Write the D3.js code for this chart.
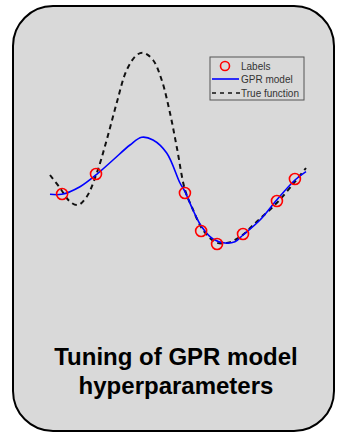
<!DOCTYPE html>
<html><head><meta charset="utf-8">
<script src="https://cdn.jsdelivr.net/npm/d3@7"></script>
<style>html,body{margin:0;padding:0;background:#fff;}svg{display:block;}</style>
</head><body>
<script>
const labelX = [0.47, 1.79, 5.25, 5.88, 6.50, 7.51, 8.83, 9.53];
const labelY = [0.52, 0.92, 0.54, -0.22, -0.48, -0.28, 0.38, 0.82];
const gprX = [0, 0.455, 1.167, 1.817, 2.451, 3.113, 3.568, 4.008, 4.541, 5.058, 5.253, 5.564, 5.903, 6.342, 6.809, 7.198, 7.510, 8.171, 8.821, 9.533, 9.961];
const gprY = [0.514, 0.514, 0.666, 0.914, 1.2, 1.5, 1.654, 1.6, 1.34, 0.74, 0.566, 0.2, -0.134, -0.38, -0.46, -0.434, -0.3, 0, 0.4, 0.8, 0.966];
const trueX = [0, 0.389, 0.778, 1.089, 1.428, 1.817, 2.206, 2.595, 2.984, 3.374, 3.630, 4.008, 4.346, 4.669, 4.930, 5.253, 5.514, 5.953, 6.486, 6.926, 7.393, 8.043, 8.821, 9.533, 9.961];
const trueY = [0.9, 0.64, 0.366, 0.3, 0.466, 0.934, 1.6, 2.34, 3.0, 3.3, 3.346, 3.2, 2.8, 2.14, 1.466, 0.6, 0.266, -0.2, -0.454, -0.454, -0.34, -0.034, 0.34, 0.766, 1.04];
const legendLabels = ["Labels", "GPR model", "True function"];
const titleLines = ["Tuning of GPR model", "hyperparameters"];

const W = 337, H = 433;
const svg = d3.select("body").append("svg").attr("width", W).attr("height", H);
svg.append("rect").attr("x", 13).attr("y", 6).attr("width", 321).attr("height", 425)
  .attr("rx", 40).attr("ry", 40).attr("fill", "#d9d9d9").attr("stroke", "#000").attr("stroke-width", 2);

const x = d3.scaleLinear().domain([0, 10]).range([50, 307]);
const y = d3.scaleLinear().domain([-1, 4]).range([270, 20]);

const line = d3.line().x(d => x(d[0])).y(d => y(d[1])).curve(d3.curveCatmullRom);
svg.append("path").datum(trueX.map((v, i) => [v, trueY[i]]))
  .attr("d", line).attr("fill", "none").attr("stroke", "#111").attr("stroke-width", 2)
  .attr("stroke-dasharray", "5,4");
svg.append("path").datum(gprX.map((v, i) => [v, gprY[i]]))
  .attr("d", line).attr("fill", "none").attr("stroke", "#0000ff").attr("stroke-width", 1.6);
svg.selectAll("circle.lab").data(labelX.map((v, i) => [v, labelY[i]])).enter()
  .append("circle").attr("class", "lab").attr("cx", d => x(d[0])).attr("cy", d => y(d[1]))
  .attr("r", 5.5).attr("fill", "none").attr("stroke", "#ff0000").attr("stroke-width", 1.6);

// legend
const lg = svg.append("g");
lg.append("rect").attr("x", 210).attr("y", 57).attr("width", 94).attr("height", 43)
  .attr("fill", "#d9d9d9").attr("stroke", "#555").attr("stroke-width", 1);
const ly = [66, 79, 93];
lg.append("circle").attr("cx", 225).attr("cy", ly[0]).attr("r", 4.5).attr("fill", "none")
  .attr("stroke", "#ff0000").attr("stroke-width", 1.6);
lg.append("line").attr("x1", 212).attr("x2", 239).attr("y1", ly[1]).attr("y2", ly[1])
  .attr("stroke", "#0000ff").attr("stroke-width", 1.6);
lg.append("line").attr("x1", 212).attr("x2", 240).attr("y1", ly[2]).attr("y2", ly[2])
  .attr("stroke", "#111").attr("stroke-width", 1.6).attr("stroke-dasharray", "4,4");
lg.selectAll("text").data(legendLabels).enter().append("text")
  .attr("x", 241).attr("y", (d, i) => ly[i] + 3.5)
  .attr("font-family", "Liberation Sans, Arial, sans-serif").attr("font-size", 10)
  .attr("fill", "#333").text(d => d);

svg.selectAll("text.title").data(titleLines).enter().append("text").attr("class", "title")
  .attr("x", 176).attr("y", (d, i) => 365 + i * 29).attr("text-anchor", "middle")
  .attr("font-family", "Liberation Sans, Arial, sans-serif").attr("font-weight", "bold")
  .attr("font-size", 24).attr("fill", "#000").text(d => d);
</script>
</body></html>
